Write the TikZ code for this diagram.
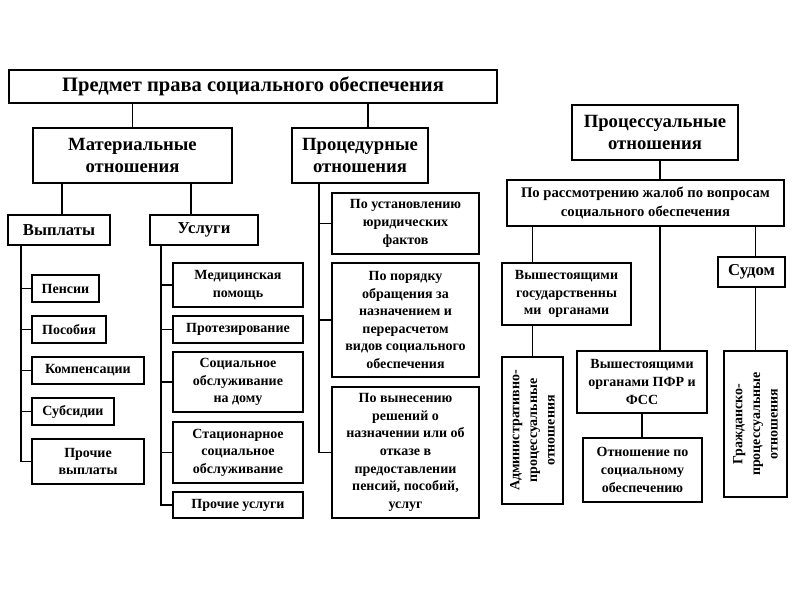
\documentclass[tikz,border=0pt]{standalone}
\usepackage{fontspec}
\setmainfont{Liberation Serif}

\begin{document}
\begin{tikzpicture}[
    x=0.75pt, y=-0.75pt,
    wh/.style 2 args={minimum width=#1*0.75pt, minimum height=#2*0.75pt},
    box/.style={draw, line width=1.4pt, align=center, inner sep=1pt},
    big/.style={box, font=\fontsize{14}{17}\selectfont\bfseries},
    mid/.style={box, font=\fontsize{12.5}{15}\selectfont\bfseries},
    small/.style={box, font=\fontsize{10.5}{13.2}\selectfont\bfseries},
    link/.style={line width=1.4pt}
  ]
    \useasboundingbox[fill=white] (0,0) rectangle (800,600);

    % left part
    \node[big, wh={488}{33}, font=\fontsize{15.4}{18}\selectfont\bfseries] (subj) at (253,86.5) {Предмет права социального обеспечения};
    \node[big, wh={199}{55}] (mat) at (132.5,155.5) {Материальные\\отношения};
    \node[big, wh={136}{55}] (proc) at (360,155.5) {Процедурные\\отношения};

    \node[mid, wh={102}{30}] (vyp) at (59,230) {Выплаты};
    \node[mid, wh={108}{30}] (usl) at (204,230) {Услуги};

    \node[small, wh={67}{27}] (pens) at (65.5,288.5) {Пенсии};
    \node[small, wh={74}{27}] (posob) at (69,329.5) {Пособия};
    \node[small, wh={112}{27}] (komp) at (88,370.5) {Компенсации};
    \node[small, wh={82}{27}] (subs) at (73,411.5) {Субсидии};
    \node[small, wh={112}{45}] (prvyp) at (88,461.5) {Прочие\\выплаты};

    \node[small, wh={130}{44}] (med) at (238,285) {Медицинская\\помощь};
    \node[small, wh={130}{27}] (prot) at (238,329.5) {Протезирование};
    \node[small, wh={130}{60}] (socdom) at (238,382) {Социальное\\обслуживание\\на дому};
    \node[small, wh={130}{61}] (stac) at (238,452.5) {Стационарное\\социальное\\обслуживание};
    \node[small, wh={130}{26}] (prusl) at (238,505) {Прочие услуги};

    \node[small, wh={147}{61}] (ust) at (405.5,223.5) {По установлению\\юридических\\фактов};
    \node[small, wh={147}{114}] (por) at (405.5,320) {По порядку\\обращения за\\назначением и\\перерасчетом\\видов социального\\обеспечения};
    \node[small, wh={147}{131}] (vyn) at (405.5,452.5) {По вынесению\\решений о\\назначении или об\\отказе в\\предоставлении\\пенсий, пособий,\\услуг};

    % right part
    \node[big, wh={166}{55}] (prcs) at (655,132.5) {Процессуальные\\отношения};
    \node[small, wh={277}{46}, font=\fontsize{11}{14}\selectfont\bfseries] (zhal) at (645.5,203) {По рассмотрению жалоб по вопросам\\социального обеспечения};
    \node[small, wh={129}{62}] (vgos) at (566.5,294) {Вышестоящими\\государственны\\ми~ органами};
    \node[mid, wh={67}{30}] (sud) at (751.5,272) {Судом};
    \node[small, wh={147}{61}, rotate=90] (adm) at (532.5,430.5) {Административно-\\процессуальные\\отношения};
    \node[small, wh={130}{62}] (vpfr) at (642,382) {Вышестоящими\\органами ПФР и\\ФСС};
    \node[small, wh={119}{64}] (otn) at (642.5,470) {Отношение по\\социальному\\обеспечению};
    \node[small, wh={146}{63}, rotate=90] (grazh) at (755.5,424) {Гражданско-\\процессуальные\\отношения};

    % connectors, left
    \draw[link] (subj.south -| mat.north) -- (mat.north);
    \draw[link] ([xshift=6pt]proc.north) -- ([xshift=6pt]proc.north |- subj.south);
    \draw[link] ([xshift=2.25pt]vyp.north) -- ([xshift=2.25pt]vyp.north |- mat.south);
    \draw[link] ([xshift=-9.75pt]usl.north) -- ([xshift=-9.75pt]usl.north |- mat.south);
    \foreach \n in {pens,posob,komp,subs,prvyp}
      \draw[link] ([xshift=10.5pt]vyp.south west) |- (\n.west);
    \foreach \n in {med,prot,socdom,stac,prusl}
      \draw[link] ([xshift=9pt]usl.south west) |- (\n.west);
    \foreach \n in {ust,por,vyn}
      \draw[link] ([xshift=21pt]proc.south west) |- (\n.west);

    % connectors, right
    \draw[link] ([xshift=3.75pt]prcs.south) -- ([xshift=3.75pt]prcs.south |- zhal.north);
    \draw[link] (adm.east |- zhal.south) -- (adm.east |- vgos.north);
    \draw[link] (vgos.south -| adm.east) -- (adm.east);
    \draw[link] ([xshift=13.5pt]vpfr.north) -- ([xshift=13.5pt]vpfr.north |- zhal.south);
    \draw[link] (vpfr.south) -- (vpfr.south |- otn.north);
    \draw[link] (grazh.east |- zhal.south) -- (grazh.east |- sud.north);
    \draw[link] (sud.south -| grazh.east) -- (grazh.east);
  \end{tikzpicture}
\end{document}
